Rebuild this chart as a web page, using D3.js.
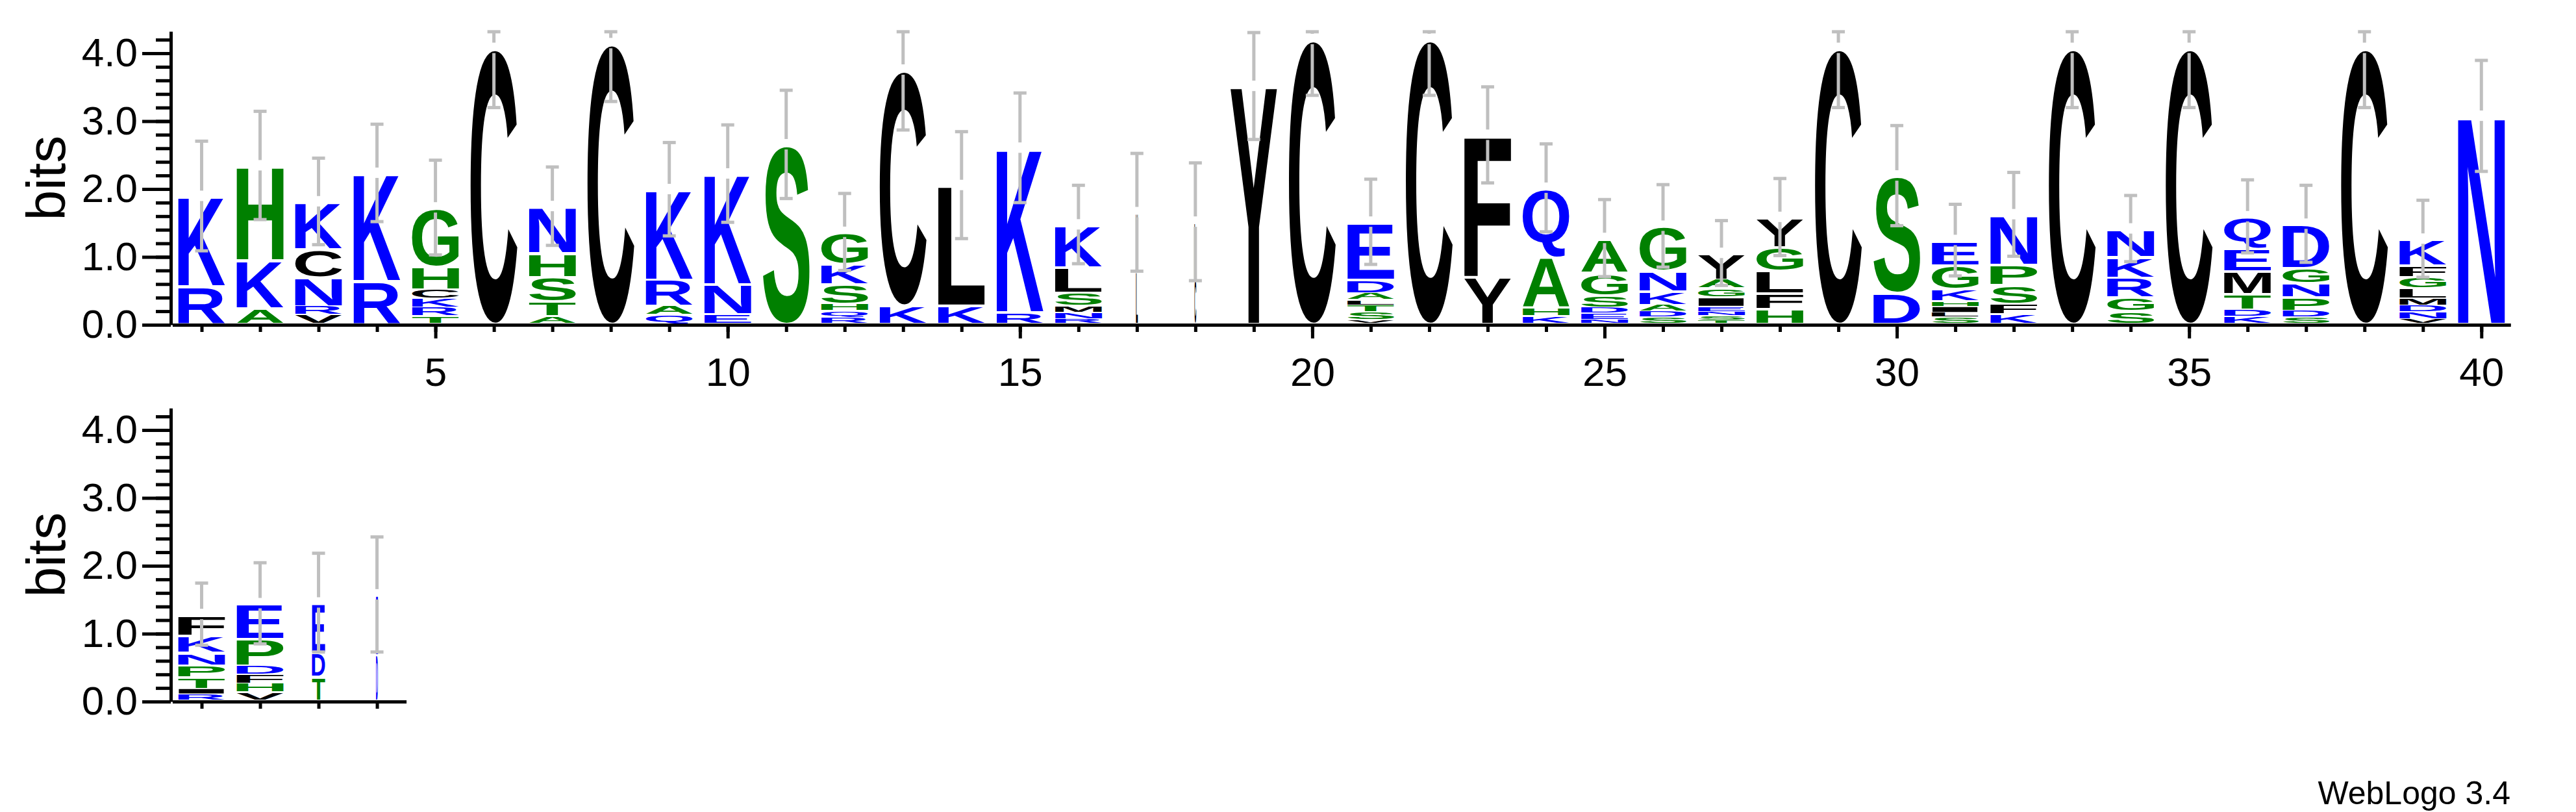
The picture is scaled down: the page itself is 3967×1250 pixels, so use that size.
<!DOCTYPE html>
<html lang="en">
<head>
<meta charset="UTF-8">
<title>Sequence logo</title>
<script src="https://d3js.org/d3.v7.min.js"></script>
<style>
    body { margin: 0; background: #fff; }
    svg { display: block; }
</style>
</head>
<body>
<script>
// residues of each column, bottom to top, as [letter, bits]
const stacks = [
    [["R",0.58],["K",1.32]],
    [["A",0.26],["K",0.71],["H",1.38]],
    [["V",0.16],["R",0.13],["N",0.42],["C",0.42],["K",0.69]],
    [["R",0.66],["K",1.58]],
    [["T",0.14],["R",0.13],["K",0.13],["C",0.14],["H",0.33],["G",0.86]],
    [["C",4.08]],
    [["A",0.14],["T",0.22],["S",0.36],["H",0.35],["N",0.68]],
    [["C",4.15]],
    [["Q",0.16],["A",0.13],["R",0.39],["K",1.32]],
    [["E",0.17],["N",0.44],["K",1.62]],
    [["S",2.66]],
    [["R",0.12],["Q",0.1],["H",0.1],["S",0.29],["K",0.3],["G",0.46]],
    [["K",0.3],["C",3.46]],
    [["K",0.3],["L",1.76]],
    [["R",0.2],["K",2.41]],
    [["R",0.1],["N",0.095],["M",0.095],["S",0.2],["L",0.37],["K",0.62]],
    [["L",0.8],["V",0.86]],
    [["C",0.7],["L",0.82]],
    [["Y",3.52]],
    [["C",4.21]],
    [["V",0.08],["S",0.12],["T",0.1],["L",0.08],["A",0.1],["D",0.2],["E",0.84]],
    [["C",4.21]],
    [["Y",0.72],["F",2.08]],
    [["K",0.14],["H",0.12],["A",0.74],["Q",1.02]],
    [["N",0.09],["E",0.09],["D",0.09],["S",0.18],["G",0.33],["A",0.5]],
    [["S",0.12],["D",0.09],["A",0.1],["K",0.2],["N",0.3],["G",0.65]],
    [["T",0.08],["S",0.06],["N",0.06],["E",0.08],["I",0.14],["G",0.13],["A",0.13],["Y",0.38]],
    [["H",0.25],["F",0.23],["L",0.33],["G",0.35],["Y",0.43]],
    [["C",4.08]],
    [["D",0.48],["S",1.72]],
    [["S",0.12],["L",0.07],["I",0.09],["H",0.08],["K",0.18],["G",0.35],["E",0.36]],
    [["K",0.17],["F",0.15],["S",0.28],["P",0.3],["N",0.73]],
    [["C",4.08]],
    [["S",0.22],["G",0.2],["R",0.29],["K",0.3],["N",0.41]],
    [["C",4.08]],
    [["K",0.13],["D",0.11],["T",0.23],["M",0.33],["E",0.33],["Q",0.47]],
    [["S",0.12],["D",0.1],["P",0.2],["N",0.21],["G",0.22],["D",0.64]],
    [["C",4.08]],
    [["V",0.1],["N",0.1],["D",0.1],["M",0.1],["L",0.15],["G",0.17],["F",0.17],["K",0.38]],
    [["N",3.08]],
    [["R",0.12],["I",0.08],["T",0.17],["P",0.18],["N",0.19],["K",0.25],["F",0.3]],
    [["V",0.15],["H",0.13],["F",0.13],["D",0.14],["P",0.39],["E",0.51]],
    [["T",0.38],["D",0.36],["E",0.72]],
    [["D",0.7],["E",0.88]]
];

// half-width of the error bar, in bits
const errors = [
    0.81, 0.8, 0.64, 0.72, 0.7, 0.88, 0.58, 0.86, 0.69, 0.72,
    0.8, 0.57, 0.89, 0.79, 0.81, 0.58, 0.87, 0.87, 0.79, 0.83,
    0.63, 0.83, 0.71, 0.65, 0.57, 0.61, 0.48, 0.57, 0.88, 0.74,
    0.53, 0.62, 0.88, 0.49, 0.88, 0.54, 0.57, 0.88, 0.57, 0.82,
    0.46, 0.6, 0.73, 0.85
];

// fraction of sequences without a gap (stack width)
const occupancy = [
    1, 1, 1, 1, 1, 1, 1, 1, 1, 1,
    1, 1, 1, 1, 1, 1, 0.04, 0.04, 1, 1,
    1, 1, 1, 1, 1, 1, 1, 1, 1, 1,
    1, 1, 1, 1, 1, 1, 1, 1, 1, 1,
    1, 1, 0.28, 0.04
];

// the logo is wrapped on two lines
const lines = [[1, 40], [41, 44]];
const yTicks = [0, 1, 2, 3, 4];
const maxBits = Math.log2(20);

const hydrophilic = "RKDENQ", neutral = "SGHTAP";
function colour(r) {
    if (hydrophilic.includes(r)) return "#0000ff";
    if (neutral.includes(r)) return "#008000";
    return "#000000";
}

const W = 3967, H = 1250;
const axisX = 263, left = 265.5, step = 90.02, bitPx = 104.5, stackW = 72;
const baselines = [500, 1080];
const font = "'Liberation Sans', Arial, Helvetica, sans-serif";

const svg = d3.select("body").append("svg")
    .attr("width", W)
    .attr("height", H)
    .style("background", "#fff");

// ink box of a glyph, measured once on a canvas
const ctx = document.createElement("canvas").getContext("2d");
ctx.font = "bold 200px 'Liberation Sans'";
const inkBox = {};
function ink(ch) {
    if (!inkBox[ch]) {
        const m = ctx.measureText(ch);
        inkBox[ch] = {
            x0: -m.actualBoundingBoxLeft, x1: m.actualBoundingBoxRight,
            y0: -m.actualBoundingBoxAscent, y1: m.actualBoundingBoxDescent
        };
    }
    return inkBox[ch];
}

lines.forEach(([first, last], li) => {
    const base = baselines[li];
    const g = svg.append("g");

    const x = d3.scaleLinear()
        .domain([first - 0.5, last + 0.5])
        .range([left, left + (last - first + 1) * step]);
    const y = d3.scaleLinear()
        .domain([0, maxBits])
        .range([base, base - maxBits * bitPx]);

    const cols = d3.range(first, last + 1);

    // letter stacks
    cols.forEach(p => {
        const w = stackW * occupancy[p - 1];
        const x0 = x(p) - w / 2;
        let cum = 0;
        stacks[p - 1].forEach(([res, bits], i) => {
            const bottom = i === 0 ? y(0) - 3 : y(cum);
            cum += bits;
            const top = y(cum);
            const h = bottom - top;
            const pad = Math.min(4, h * 0.2);
            const b = ink(res);
            const sx = w / (b.x1 - b.x0);
            const sy = (h - pad) / (b.y1 - b.y0);
            g.append("text")
                .attr("x", 0)
                .attr("y", 0)
                .attr("font-family", "'Liberation Sans'")
                .attr("font-weight", "bold")
                .attr("font-size", 200)
                .attr("fill", colour(res))
                .attr("transform", `translate(${x0 - sx * b.x0},${top + pad - sy * b.y0}) scale(${sx},${sy})`)
                .text(res);
        });
    });

    // error bars, with a small break at the top of the stack
    const gap = 8, cap = 10;
    cols.forEach(p => {
        const total = d3.sum(stacks[p - 1], d => d[1]);
        const e = errors[p - 1];
        const yHi = y(Math.min(total + e, maxBits) - 0.005);
        const yLo = y(total - e);
        const yMid = y(total);
        const cx = x(p);
        const eb = g.append("g")
            .attr("stroke", "#bfbfbf")
            .attr("stroke-width", 5);
        eb.append("line").attr("x1", cx).attr("x2", cx).attr("y1", yHi).attr("y2", yMid - gap);
        eb.append("line").attr("x1", cx).attr("x2", cx).attr("y1", yMid + gap).attr("y2", yLo);
        eb.append("line").attr("x1", cx - cap).attr("x2", cx + cap).attr("y1", yHi).attr("y2", yHi);
        eb.append("line").attr("x1", cx - cap).attr("x2", cx + cap).attr("y1", yLo).attr("y2", yLo);
    });

    // y axis
    const yMinor = g.append("g")
        .attr("transform", `translate(${axisX},0)`)
        .call(d3.axisLeft(y).tickValues(d3.range(1, 22).map(i => i * 0.2)).tickSize(23).tickFormat(""));
    yMinor.select(".domain").remove();

    const yMajor = g.append("g")
        .attr("transform", `translate(${axisX},0)`)
        .call(d3.axisLeft(y).tickValues(yTicks).tickSize(44).tickSizeOuter(0)
            .tickPadding(7).tickFormat(d3.format(".1f")));
    yMajor.attr("font-size", 62).attr("font-family", font);

    [yMinor, yMajor].forEach(a => a.selectAll(".tick line").attr("stroke-width", 5));
    yMajor.select(".domain").attr("stroke-width", 5);

    g.append("text")
        .attr("transform", `translate(100,${y(maxBits / 2)}) rotate(-90)`)
        .attr("text-anchor", "middle")
        .attr("font-family", font)
        .attr("font-size", 84)
        .text("bits");

    // x axis
    const xMinor = g.append("g")
        .attr("transform", `translate(0,${base})`)
        .call(d3.axisBottom(x).tickValues(cols).tickSize(11).tickSizeOuter(0).tickFormat(""));
    xMinor.select(".domain").attr("stroke-width", 5);

    const xMajor = g.append("g")
        .attr("transform", `translate(0,${base})`)
        .call(d3.axisBottom(x).tickValues(cols.filter(p => p % 5 === 0)).tickSize(21)
            .tickSizeOuter(0).tickPadding(29));
    xMajor.select(".domain").remove();
    xMajor.attr("font-size", 62).attr("font-family", font);

    [xMinor, xMajor].forEach(a => a.selectAll(".tick line").attr("stroke-width", 5));
});

svg.append("text")
    .attr("x", 3866)
    .attr("y", 1238)
    .attr("text-anchor", "end")
    .attr("font-family", font)
    .attr("font-size", 50)
    .text("WebLogo 3.4");
</script>
</body>
</html>
